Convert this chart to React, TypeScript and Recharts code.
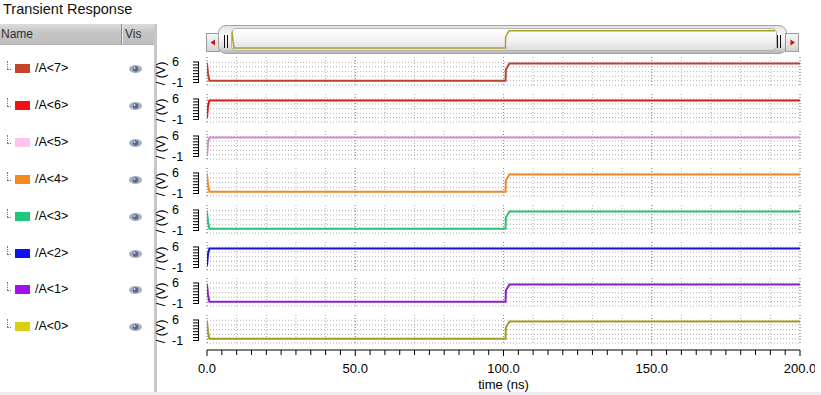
import { CartesianGrid, Line, LineChart, XAxis, YAxis } from "recharts";

// sample times (ns) shared by every signal
const time = [0, 0.35, 0.8, 100.7, 100.8, 102, 200];

// bus bits, volts at each sample time
const a7 = [5.5, 2.0, -0.4, -0.4, 3.4, 5.5, 5.5];
const a6 = [-0.5, 3.6, 5.5, 5.5, 5.5, 5.5, 5.5];
const a5 = [-0.8, 3.6, 5.5, 5.5, 5.5, 5.5, 5.5];
const a4 = [5.5, 2.0, -0.4, -0.4, 3.4, 5.5, 5.5];
const a3 = [5.4, 2.0, -0.4, -0.4, 3.4, 5.5, 5.5];
const a2 = [-0.5, 3.6, 5.5, 5.5, 5.5, 5.5, 5.5];
const a1 = [5.5, 2.0, -0.4, -0.4, 3.4, 5.5, 5.5];
const a0 = [5.5, 2.0, -0.4, -0.4, 3.4, 5.5, 5.5];

const names = ["/A<7>", "/A<6>", "/A<5>", "/A<4>", "/A<3>", "/A<2>", "/A<1>", "/A<0>"];
const swatchColors = ["#c4452c", "#f41010", "#ffc4ec", "#f6891c", "#1ec878", "#1010f4", "#a010f0", "#d8d010"];
const lineColors = ["#b9442c", "#d81c1c", "#c890c8", "#ef8a22", "#2cbf7c", "#1414d8", "#8a20c8", "#a29c22"];
const values = [a7, a6, a5, a4, a3, a2, a1, a0];

const yTicks = [-1, 0, 1, 2, 3, 4, 5, 6];
const yTickLabels: Record<number, string> = { 6: "6", [-1]: "-1" };
const hGrid = [5.9, 4.3, 2.7, 1.1, -0.4, -1.9];
const xTicks = Array.from({ length: 41 }, (_, i) => i * 5);
const xMajor = [0, 50, 100, 150, 200];
const xLabels = ["0.0", "50.0", "100.0", "150.0", "200.0"];

const Y_DOMAIN: [number, number] = [-2.55, 7.7];
const PLOT_H = 30;
const PAD = 6;
const PX_PER_V = PLOT_H / (Y_DOMAIN[1] - Y_DOMAIN[0]);
const STRIP_TOP = 57;
const STRIP_STEP = 36.9;
const CHART_LEFT = 155;
const CHART_W = 660;
const AXIS_W = 52;
const FONT = "'Liberation Sans', Arial, sans-serif";

function CombTick({ x, y, payload }: any) {
  const v = payload.value;
  const label = yTickLabels[v];
  return (
    <g>
      <line x1={x - 14} x2={x - 8} y1={y} y2={y} stroke="#000" strokeWidth={1} />
      {v < 6 && <line x1={x - 8.5} x2={x - 8.5} y1={y} y2={y - PX_PER_V} stroke="#000" strokeWidth={1} />}
      {label && (
        <text x={x - 35} y={y} dy={4.5} fontSize={12.5} fill="#000">
          {label}
        </text>
      )}
    </g>
  );
}

function UnitLabel({ viewBox }: any) {
  const cx = (viewBox?.x ?? 0) + 6;
  const cy = (viewBox?.y ?? 0) + (viewBox?.height ?? PLOT_H) / 2 + 1.5;
  return (
    <text x={cx} y={cy} dy={4} transform={`rotate(-90 ${cx} ${cy})`} textAnchor="middle" fontSize={12.5} fill="#000">
      / (V)
    </text>
  );
}

function TimeTick({ x, y, payload }: any) {
  const idx = xMajor.indexOf(payload.value);
  return (
    <g>
      <line x1={x} x2={x} y1={y} y2={y + (idx >= 0 ? 6 : 5)} stroke="#000" />
      {idx >= 0 && (
        <text x={x} y={y + 23} textAnchor="middle" fontSize={13} fill="#000">
          {xLabels[idx]}
        </text>
      )}
    </g>
  );
}

function Eye({ cy }: { cy: number }) {
  return (
    <svg width={16} height={10} style={{ position: "absolute", left: 128, top: cy - 5 }}>
      <ellipse cx={7.5} cy={5} rx={6.5} ry={4} fill="#a4b0c4" />
      <circle cx={7.5} cy={5} r={2.8} fill="#5a6a86" />
      <circle cx={6.5} cy={4} r={0.9} fill="#dfe6f0" />
    </svg>
  );
}

function Strip({ index }: { index: number }) {
  const rows = time.map((t, i) => ({ t, v: values[index][i] }));
  return (
    <div style={{ position: "absolute", left: CHART_LEFT, top: STRIP_TOP + STRIP_STEP * index - PAD }}>
      <LineChart
        width={CHART_W}
        height={PLOT_H + 2 * PAD}
        data={rows}
        margin={{ top: PAD, right: 15, bottom: PAD, left: 0 }}
      >
        <CartesianGrid
          verticalValues={xTicks}
          horizontalValues={hGrid}
          stroke="#b0b0b0"
          strokeDasharray="1 2"
        />
        <CartesianGrid verticalValues={xMajor} horizontal={false} stroke="#8a8a8a" strokeDasharray="1 2" />
        <XAxis type="number" dataKey="t" domain={[0, 200]} allowDataOverflow hide />
        <YAxis
          type="number"
          domain={Y_DOMAIN}
          allowDataOverflow
          ticks={yTicks}
          interval={0}
          width={AXIS_W}
          tick={<CombTick />}
          tickLine={false}
          tickSize={0}
          tickMargin={0}
          axisLine={false}
          label={(p: any) => <UnitLabel {...p} />}
        />
        <Line
          type="linear"
          dataKey="v"
          stroke={lineColors[index]}
          strokeWidth={2}
          dot={false}
          isAnimationActive={false}
        />
      </LineChart>
    </div>
  );
}

function ScrollBar() {
  const overview = time.map((t, i) => ({ t, v: a0[i] }));
  return (
    <>
      <div
        style={{
          position: "absolute", left: 206, top: 33, width: 12, height: 17,
          border: "1px solid #9a9a9a", background: "linear-gradient(#f6f6f6, #d4d4d4)",
        }}
      >
        <svg width={12} height={17} style={{ position: "absolute", left: 0, top: 0 }}>
          <polygon points="3.5,8.5 8,5.5 8,11.5" fill="#d01010" />
        </svg>
      </div>
      <div
        style={{
          position: "absolute", left: 218, top: 25, width: 567, height: 27, borderRadius: 8,
          border: "1px solid #a4a4a4",
          background: "linear-gradient(#e2e2e2, #fbfbfb 35%, #e2e2e2 75%, #b8b8b8)",
        }}
      />
      <div
        style={{
          position: "absolute", left: 231, top: 28, width: 544, height: 21, borderRadius: 5,
          border: "1px solid #b4b4b4",
          background: "linear-gradient(#ffffff, #f4f4f4 50%, #dedede)",
        }}
      />
      <div style={{ position: "absolute", left: 224, top: 35, width: 1, height: 13, background: "#111" }} />
      <div style={{ position: "absolute", left: 227, top: 35, width: 1, height: 13, background: "#111" }} />
      <div style={{ position: "absolute", left: 777, top: 35, width: 1, height: 13, background: "#111" }} />
      <div style={{ position: "absolute", left: 780, top: 35, width: 1, height: 13, background: "#111" }} />
      <div style={{ position: "absolute", left: 232, top: 29 }}>
        <LineChart width={543} height={21} data={overview} margin={{ top: 0, right: 0, bottom: 0, left: 0 }}>
          <XAxis type="number" dataKey="t" domain={[0, 200]} hide />
          <YAxis type="number" domain={[-1.08, 6.08]} allowDataOverflow hide />
          <Line type="linear" dataKey="v" stroke="#aaa22c" strokeWidth={1.5} dot={false} isAnimationActive={false} />
        </LineChart>
      </div>
      <div
        style={{
          position: "absolute", left: 785, top: 33, width: 12, height: 17,
          border: "1px solid #9a9a9a", background: "linear-gradient(#f6f6f6, #d4d4d4)",
        }}
      >
        <svg width={12} height={17} style={{ position: "absolute", left: 0, top: 0 }}>
          <polygon points="9,8.5 4.5,5.5 4.5,11.5" fill="#d01010" />
        </svg>
      </div>
    </>
  );
}

export default function App() {
  const axisRows = time.map((t) => ({ t }));
  return (
    <div
      style={{
        position: "absolute", left: 0, top: 0, width: 821, height: 395, overflow: "hidden",
        background: "#fff", fontFamily: FONT, color: "#000",
      }}
    >
      <div style={{ position: "absolute", left: 3, top: 1, fontSize: 14.5, color: "#111" }}>Transient Response</div>

      {/* signal browser on the left */}
      <div
        style={{
          position: "absolute", left: 0, top: 24, width: 154, height: 20,
          background: "linear-gradient(#dcdcdc, #c6c6c6 40%, #bdbdbd)",
          borderBottom: "1px solid #b0b0b0",
        }}
      >
        <span style={{ position: "absolute", left: 1, top: 3, fontSize: 12, color: "#333" }}>Name</span>
        <div style={{ position: "absolute", left: 121, top: 0, width: 1, height: 20, background: "#8c8c8c" }} />
        <div style={{ position: "absolute", left: 122, top: 0, width: 1, height: 20, background: "#e8e8e8" }} />
        <span style={{ position: "absolute", left: 125, top: 3, fontSize: 12, color: "#333" }}>Vis</span>
      </div>
      <div style={{ position: "absolute", left: 154, top: 24, width: 3, height: 369, background: "#c8c8c8" }} />
      <div style={{ position: "absolute", left: 0, top: 392, width: 821, height: 3, background: "#ececec" }} />

      {names.map((name, i) => {
        const cy = 68 + STRIP_STEP * i;
        return (
          <div key={name}>
            <div style={{ position: "absolute", left: 7, top: cy - 7, width: 0, height: 8, borderLeft: "1px dotted #777" }} />
            <div style={{ position: "absolute", left: 7, top: cy + 1, width: 4, height: 0, borderTop: "1px dotted #777" }} />
            <div style={{ position: "absolute", left: 15, top: cy - 4, width: 15, height: 9, background: swatchColors[i] }} />
            <span style={{ position: "absolute", left: 35, top: cy - 7, fontSize: 12.5, lineHeight: "14px" }}>{name}</span>
            <Eye cy={cy + 1} />
          </div>
        );
      })}

      <ScrollBar />

      {names.map((name, i) => (
        <Strip key={name} index={i} />
      ))}

      {/* shared time axis */}
      <div style={{ position: "absolute", left: CHART_LEFT, top: 340 }}>
        <LineChart width={CHART_W} height={55} data={axisRows} margin={{ top: 0, right: 15, bottom: 0, left: AXIS_W }}>
          <XAxis
            type="number"
            dataKey="t"
            domain={[0, 200]}
            allowDataOverflow
            ticks={xTicks}
            interval={0}
            height={45}
            tick={<TimeTick />}
            tickLine={false}
            tickSize={0}
            tickMargin={0}
            axisLine={{ stroke: "#000" }}
            label={{ value: "time (ns)", position: "insideBottom", offset: 6, fill: "#000", fontSize: 13 }}
          />
          <YAxis type="number" domain={[0, 1]} hide />
        </LineChart>
      </div>
    </div>
  );
}
